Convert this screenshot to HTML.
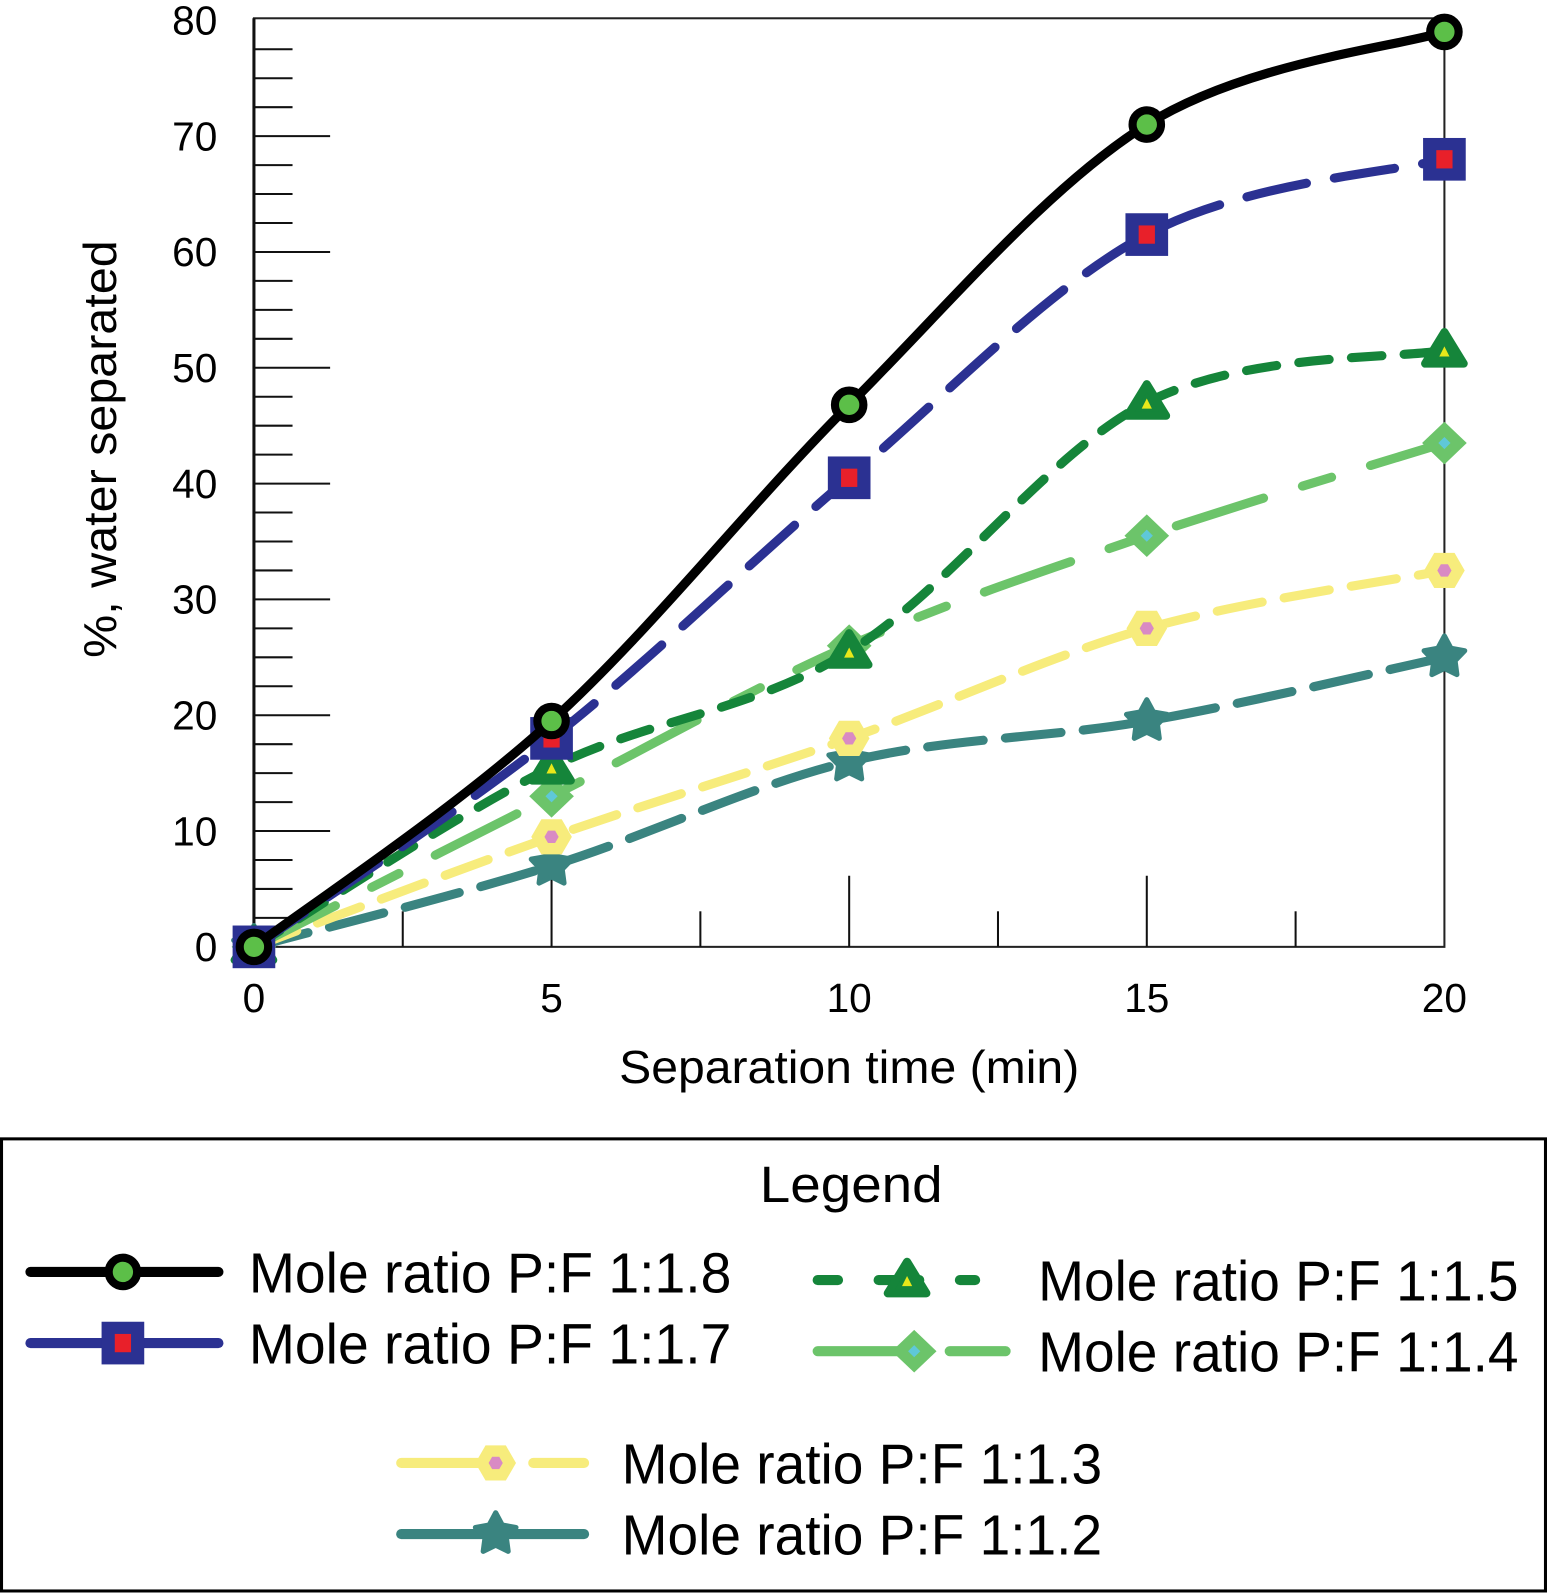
<!DOCTYPE html>
<html><head><meta charset="utf-8"><style>
html,body{margin:0;padding:0;background:#fff;}
svg{display:block;}
text{font-family:"Liberation Sans",sans-serif;fill:#000;}
</style></head><body>
<svg id="chart" width="1547" height="1593" viewBox="0 0 1523 1568" preserveAspectRatio="none" xmlns="http://www.w3.org/2000/svg">
<g id="axes"></g>
<g id="series"></g>
<text x="836" y="1066" font-size="46" text-anchor="middle" textLength="453" lengthAdjust="spacingAndGlyphs">Separation time (min)</text>
<text transform="translate(114,442) rotate(-90)" font-size="46" text-anchor="middle" textLength="411" lengthAdjust="spacingAndGlyphs">%, water separated</text>
<rect x="1.5" y="1121" width="1520" height="445" fill="none" stroke="#000" stroke-width="3"/>
<text x="838" y="1183" font-size="50" text-anchor="middle" textLength="180" lengthAdjust="spacingAndGlyphs">Legend</text>
<g id="legend"></g>
</svg>
<script>
const xValues = [0, 5, 10, 15, 20];
const s18 = [0, 19.5, 46.8, 71, 79];
const s17 = [0, 18, 40.5, 61.5, 68];
const s15 = [0, 15.5, 25.5, 47, 51.5];
const s14 = [0, 13, 26, 35.5, 43.5];
const s13 = [0, 9.5, 18, 27.5, 32.5];
const s12 = [0, 7, 16, 19.5, 25];
const yTickLabels = ["0","10","20","30","40","50","60","70","80"];
const xTickLabels = ["0","5","10","15","20"];
const seriesNames = ["Mole ratio P:F 1:1.8","Mole ratio P:F 1:1.7","Mole ratio P:F 1:1.5","Mole ratio P:F 1:1.4","Mole ratio P:F 1:1.3","Mole ratio P:F 1:1.2"];

const NS = "http://www.w3.org/2000/svg";
const L = 250, R = 1422, T = 18, B = 932, YMAX = 80, XMAX = 20;
const xs = v => L + (R - L) * v / XMAX;
const ys = v => B - (B - 20) * v / YMAX;
function mk(tag, attrs, parent) {
  const e = document.createElementNS(NS, tag);
  for (const k in attrs) e.setAttribute(k, attrs[k]);
  parent.appendChild(e);
  return e;
}
const axes = document.getElementById('axes');
let e;
e = mk('rect', {x: L, y: T, width: R - L, height: B - T, fill: 'none', stroke: '#222', 'stroke-width': 2}, axes);


e = mk('line', {x1: L, y1: T, x2: L, y2: B, stroke: '#111', 'stroke-width': 3}, axes);


for (let v = 0; v <= 80; v += 2.5) {
  const major = v % 10 === 0;
  if (v === 0 || v === 80) continue;
  e = mk('line', {x1: L, y1: ys(v), x2: L + (major ? 75 : 38), y2: ys(v), stroke: '#111', 'stroke-width': 2}, axes);
  
  
}
yTickLabels.forEach(t => {
  e = mk('text', {x: 214, y: ys(+t) + 14, 'font-size': 40, 'text-anchor': 'end'}, axes);
  e.textContent = t;
  
  
});
for (let v = 2.5; v < 20; v += 2.5) {
  const major = v % 5 === 0;
  e = mk('line', {x1: xs(v), y1: B, x2: xs(v), y2: B - (major ? 70 : 35), stroke: '#111', 'stroke-width': 2}, axes);
  
  
}
xTickLabels.forEach(t => {
  e = mk('text', {x: xs(+t), y: 996, 'font-size': 40, 'text-anchor': 'middle'}, axes);
  e.textContent = t;
  
  
});

function curvePath(pts) {
  let d = `M${pts[0][0]},${pts[0][1]}`;
  for (let i = 0; i < pts.length - 1; i++) {
    const p0 = pts[i - 1] || pts[i], p1 = pts[i], p2 = pts[i + 1], p3 = pts[i + 2] || p2;
    const c1 = [p1[0] + (p2[0] - p0[0]) / 6, p1[1] + (p2[1] - p0[1]) / 6];
    const c2 = [p2[0] - (p3[0] - p1[0]) / 6, p2[1] - (p3[1] - p1[1]) / 6];
    d += ` C${c1[0]},${c1[1]} ${c2[0]},${c2[1]} ${p2[0]},${p2[1]}`;
  }
  return d;
}
function star(cx, cy, ro, ri) {
  let p = [];
  for (let i = 0; i < 10; i++) {
    const a = -Math.PI / 2 + i * Math.PI / 5, r = i % 2 ? ri : ro;
    p.push((cx + r * Math.cos(a)).toFixed(1) + ',' + (cy + r * Math.sin(a)).toFixed(1));
  }
  return p.join(' ');
}
function hex(cx, cy, r) {
  let p = [];
  for (let i = 0; i < 6; i++) { const a = i * Math.PI / 3; p.push((cx + r * Math.cos(a)) + ',' + (cy + r * Math.sin(a))); }
  return p.join(' ');
}
function marker(type, x, y, g, sc) {
  sc = sc || 1;
  if (type === 'circle') {
    mk('circle', {cx: x, cy: y, r: 14 * sc, fill: '#5cbf48', stroke: '#000', 'stroke-width': 8 * sc}, g);
  } else if (type === 'square') {
    mk('rect', {x: x - 21 * sc, y: y - 21 * sc, width: 42 * sc, height: 42 * sc, fill: '#2b3192'}, g);
    mk('rect', {x: x - 8 * sc, y: y - 9 * sc, width: 16 * sc, height: 18 * sc, fill: '#e8202a'}, g);
  } else if (type === 'triangle') {
    mk('polygon', {points: `${x},${y - 18 * sc} ${x - 19 * sc},${y + 13 * sc} ${x + 19 * sc},${y + 13 * sc}`, fill: '#15853a', stroke: '#15853a', 'stroke-width': 8 * sc, 'stroke-linejoin': 'round'}, g);
    mk('polygon', {points: `${x},${y - 4 * sc} ${x - 5 * sc},${y + 6 * sc} ${x + 5 * sc},${y + 6 * sc}`, fill: '#e8e81a'}, g);
  } else if (type === 'diamond') {
    mk('polygon', {points: `${x},${y - 21 * sc} ${x + 22 * sc},${y} ${x},${y + 21 * sc} ${x - 22 * sc},${y}`, fill: '#6cc46a'}, g);
    mk('polygon', {points: `${x},${y - 6 * sc} ${x + 6 * sc},${y} ${x},${y + 6 * sc} ${x - 6 * sc},${y}`, fill: '#5fc8d8'}, g);
  } else if (type === 'hex') {
    mk('polygon', {points: hex(x, y, 20 * sc), fill: '#f7ec7c'}, g);
    mk('polygon', {points: hex(x, y, 7 * sc), fill: '#d98ac4'}, g);
  } else if (type === 'star') {
    mk('polygon', {points: star(x, y, 21 * sc, 11 * sc), fill: '#3a8480', stroke: '#3a8480', 'stroke-width': 5, 'stroke-linejoin': 'round'}, g);
  }
}
const seriesData = [s18, s17, s15, s14, s13, s12];
const styles = [
  {c: '#000', d: 'none', m: 'circle', w: 9},
  {c: '#2b3192', d: '60 28', m: 'square', w: 9},
  {c: '#15853a', d: '30 22', m: 'triangle', w: 9},
  {c: '#6cc46a', d: '90 40 30 40', m: 'diamond', w: 9},
  {c: '#f7ec7c', d: '45 22', m: 'hex', w: 9},
  {c: '#3a8480', d: '55 22', m: 'star', w: 9}
];
const sg = document.getElementById('series');
const ids = ['1-8','1-7','1-5','1-4','1-3','1-2'];
for (let i = seriesData.length - 1; i >= 0; i--) {
  const st = styles[i];
  const g = mk('g', {}, sg);
  
  
  const pts = seriesData[i].map((v, j) => [xs(xValues[j]), ys(v)]);
  const p = mk('path', {d: curvePath(pts), fill: 'none', stroke: st.c, 'stroke-width': st.w, 'stroke-linecap': 'round', 'stroke-dasharray': st.d}, g);
  
  
  pts.forEach(pt => marker(st.m, pt[0], pt[1], g));
}
const lg = document.getElementById('legend');
const legendPos = [
  {x1: 30, x2: 215, mx: 121, y: 1252, tx: 245, tw: 475},
  {x1: 30, x2: 215, mx: 121, y: 1322, tx: 245, tw: 475},
  {x1: 805, x2: 960, mx: 893, y: 1260, tx: 1022, tw: 473},
  {x1: 805, x2: 990, mx: 900, y: 1330, tx: 1022, tw: 473},
  {x1: 395, x2: 575, mx: 488, y: 1440, tx: 612, tw: 473},
  {x1: 395, x2: 575, mx: 488, y: 1510, tx: 612, tw: 473}
];
const legDash = ['none', 'none', '20 40 40 40', '90 40', '90 40', 'none'];
legendPos.forEach((lp, i) => {
  const st = styles[i];
  const g = mk('g', {}, lg);
  
  
  mk('line', {x1: lp.x1, y1: lp.y, x2: lp.x2, y2: lp.y, stroke: st.c, 'stroke-width': 10, 'stroke-linecap': 'round', 'stroke-dasharray': legDash[i]}, g);
  marker(st.m, lp.mx, lp.y, g, 1);
  const t = mk('text', {x: lp.tx, y: lp.y + 20, 'font-size': 56, textLength: lp.tw, lengthAdjust: 'spacingAndGlyphs'}, g);
  t.textContent = seriesNames[i];
  
  
});
</script>
</body></html>
